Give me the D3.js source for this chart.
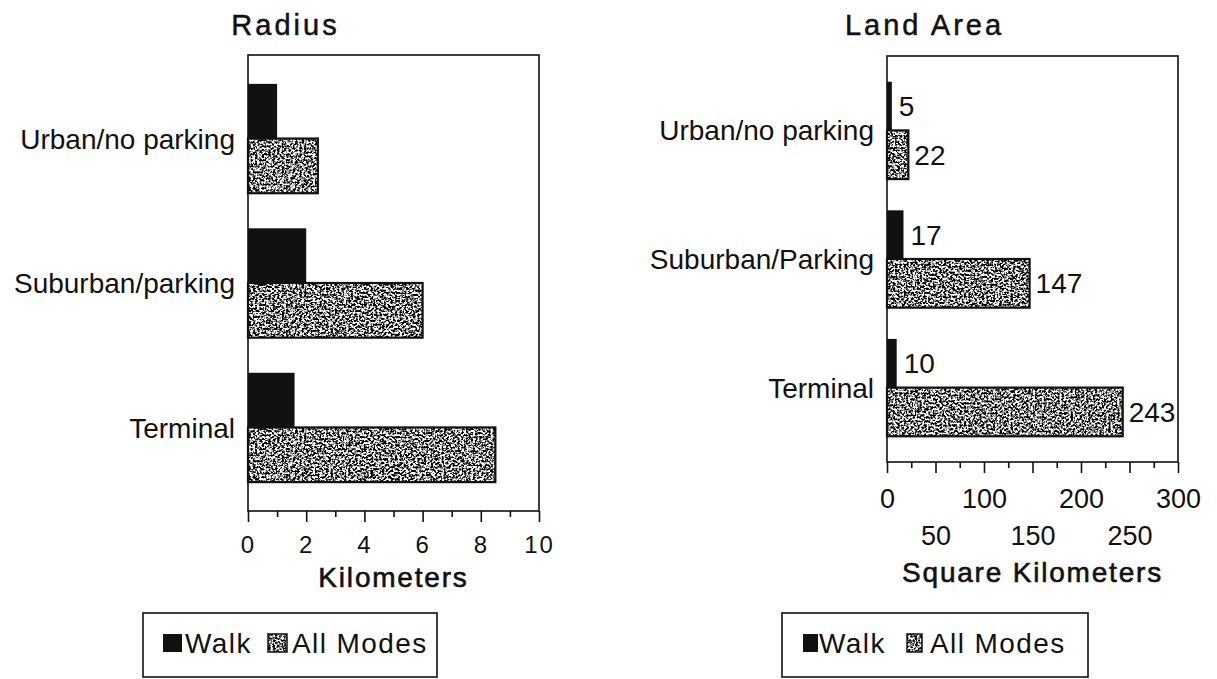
<!DOCTYPE html>
<meta charset="utf-8">
<script src="https://d3js.org/d3.v7.min.js"></script>
<style>
  body { margin: 0; background: #fff; }
  text { font-family: "Liberation Sans", Arial, sans-serif; fill: #111; }
</style>

<div id="chart"></div>

<script>
// data
var series = ["Walk", "All Modes"];

var radiusCats = ["Urban/no parking", "Suburban/parking", "Terminal"];
var radiusWalk = [1.0, 2.0, 1.6];
var radiusAll = [2.4, 6.0, 8.5];
var radiusMajor = [0, 2, 4, 6, 8, 10];
var radiusMinor = [1, 3, 5, 7, 9];

var areaCats = ["Urban/no parking", "Suburban/Parking", "Terminal"];
var areaWalk = [5, 17, 10];
var areaAll = [22, 147, 243];
var areaMajor = [0, 50, 100, 150, 200, 250, 300];
var areaMinor = [25, 75, 125, 175, 225, 275];

var svg = d3.select("#chart")
  .append("svg")
    .attr("width", 1217)
    .attr("height", 679);

// speckled halftone look for the "All Modes" bars
var defs = svg.append("defs");
var f = defs.append("filter")
  .attr("id", "stipple")
  .attr("x", 0).attr("y", 0).attr("width", 1).attr("height", 1)
  .attr("color-interpolation-filters", "sRGB");
f.append("feTurbulence")
  .attr("type", "fractalNoise")
  .attr("baseFrequency", "0.45 0.5")
  .attr("numOctaves", 3)
  .attr("seed", 11)
  .attr("result", "noise");
f.append("feColorMatrix")
  .attr("in", "noise")
  .attr("type", "matrix")
  .attr("values", "0 0 0 0 0  0 0 0 0 0  0 0 0 0 0  -5 0 0 0 3.0")
  .attr("result", "ink");
f.append("feFlood").attr("flood-color", "#fff").attr("result", "paper");
f.append("feComposite").attr("in", "ink").attr("in2", "paper").attr("operator", "over").attr("result", "tex");
f.append("feComposite").attr("in", "tex").attr("in2", "SourceGraphic").attr("operator", "in");

function panel(o) {
  var g = svg.append("g");

  var x = d3.scaleLinear().domain(o.domain).range([o.left, o.right]);
  var y = d3.scaleBand().domain(o.cats).range([o.top, o.bottom])
    .paddingInner(0.243).paddingOuter(0.2);
  var ys = d3.scaleBand().domain(series).range([0, y.bandwidth()]);

  var rows = o.cats.map(function(c, i) {
    return {cat: c, walk: o.walk[i], all: o.all[i]};
  });

  // plot frame
  g.append("rect")
    .attr("x", o.left).attr("y", o.top)
    .attr("width", o.right - o.left).attr("height", o.bottom - o.top)
    .attr("fill", "none").attr("stroke", "#111").attr("stroke-width", 1.6);

  var grp = g.selectAll(".grp")
    .data(rows)
    .enter()
    .append("g")
      .attr("transform", function(d) { return "translate(0," + y(d.cat) + ")"; });

  grp.append("rect")
    .attr("x", x(0))
    .attr("y", ys("Walk"))
    .attr("width", function(d) { return x(d.walk) - x(0); })
    .attr("height", ys.bandwidth())
    .attr("fill", "#111");

  grp.append("rect")
    .attr("x", x(0))
    .attr("y", ys("All Modes"))
    .attr("width", function(d) { return x(d.all) - x(0); })
    .attr("height", ys.bandwidth())
    .attr("fill", "#fff")
    .attr("filter", "url(#stipple)");

  grp.append("rect")
    .attr("x", x(0))
    .attr("y", ys("All Modes"))
    .attr("width", function(d) { return x(d.all) - x(0); })
    .attr("height", ys.bandwidth())
    .attr("fill", "none")
    .attr("stroke", "#111")
    .attr("stroke-width", 2.2);

  if (o.showValues) {
    grp.append("text")
      .attr("x", function(d) { return x(d.walk) + 7; })
      .attr("y", ys("Walk") + ys.bandwidth() / 2)
      .attr("dy", "0.36em")
      .style("font-size", "28px")
      .text(function(d) { return d.walk; });
    grp.append("text")
      .attr("x", function(d) { return x(d.all) + 6; })
      .attr("y", ys("All Modes") + ys.bandwidth() / 2)
      .attr("dy", "0.36em")
      .style("font-size", "28px")
      .text(function(d) { return d.all; });
  }

  // category labels
  g.selectAll(".cat")
    .data(o.cats)
    .enter()
    .append("text")
      .attr("x", o.left - 13)
      .attr("y", function(d) { return y(d) + y.bandwidth() / 2; })
      .attr("dy", "0.36em")
      .style("text-anchor", "end")
      .style("font-size", "28px")
      .text(function(d) { return d; });

  // x axis: minor + major ticks
  var minor = g.append("g")
    .attr("transform", "translate(0," + o.bottom + ")")
    .call(d3.axisBottom(x).tickValues(o.minor).tickSize(6).tickFormat(""));
  minor.select(".domain").remove();
  minor.selectAll("line").attr("stroke", "#111").attr("stroke-width", 1.6);

  var major = g.append("g")
    .attr("transform", "translate(0," + o.bottom + ")")
    .call(d3.axisBottom(x).tickValues(o.major).tickSize(11));
  major.select(".domain").remove();
  major.selectAll("line").attr("stroke", "#111").attr("stroke-width", 1.6);
  major.selectAll("text")
    .attr("fill", "#111")
    .attr("font-family", null)
    .style("font-size", o.tickFont + "px")
    .style("letter-spacing", o.tickSpacing + "px")
    .attr("dy", 0)
    .attr("y", function(d, i) { return o.rowY[i % o.rowY.length]; });

  // axis title
  g.append("text")
    .attr("x", (o.left + o.right) / 2)
    .attr("y", o.axisTitleY)
    .style("text-anchor", "middle")
    .style("font-size", "28px")
    .style("letter-spacing", "1.8px")
    .style("stroke", "#111")
    .style("stroke-width", "0.6px")
    .text(o.axisTitle);

  // chart title
  g.append("text")
    .attr("x", (o.left + o.right) / 2 - 108)
    .attr("y", 35)
    .style("text-anchor", "middle")
    .style("font-size", "29px")
    .style("letter-spacing", "3px")
    .style("stroke", "#111")
    .style("stroke-width", "0.5px")
    .text(o.title);
}

function legend(o) {
  var g = svg.append("g");
  g.append("rect")
    .attr("x", o.x).attr("y", o.y).attr("width", o.w).attr("height", o.h)
    .attr("fill", "#fff").attr("stroke", "#111").attr("stroke-width", 1.6);

  series.forEach(function(s, i) {
    var sw = g.append("rect")
      .attr("x", o.sw[i]).attr("y", o.y + 21)
      .attr("width", o.swW).attr("height", 18);
    if (s == "Walk") {
      sw.attr("fill", "#111");
    } else {
      sw.attr("fill", "#fff").attr("filter", "url(#stipple)");
      g.append("rect")
        .attr("x", o.sw[i]).attr("y", o.y + 21)
        .attr("width", o.swW).attr("height", 18)
        .attr("fill", "none").attr("stroke", "#111").attr("stroke-width", 1.5);
    }
    g.append("text")
      .attr("x", o.tx[i])
      .attr("y", o.y + 40)
      .style("font-size", "28px")
      .style("letter-spacing", "1.4px")
      .text(s);
  });
}

panel({
  title: "Radius", axisTitle: "Kilometers",
  cats: radiusCats, walk: radiusWalk, all: radiusAll,
  domain: [0, 10], major: radiusMajor, minor: radiusMinor,
  left: 248, right: 539, top: 55, bottom: 511,
  tickFont: 24, tickSpacing: 2, rowY: [42], axisTitleY: 587, showValues: false
});

panel({
  title: "Land Area", axisTitle: "Square Kilometers",
  cats: areaCats, walk: areaWalk, all: areaAll,
  domain: [0, 300], major: areaMajor, minor: areaMinor,
  left: 887, right: 1178, top: 56, bottom: 462,
  tickFont: 27, tickSpacing: 0, rowY: [46, 83], axisTitleY: 582, showValues: true
});

legend({x: 143, y: 613, w: 294, h: 64, swW: 19, sw: [163, 268], tx: [185, 292]});
legend({x: 782, y: 613, w: 306, h: 64, swW: 15, sw: [803, 907], tx: [819, 930]});
</script>
